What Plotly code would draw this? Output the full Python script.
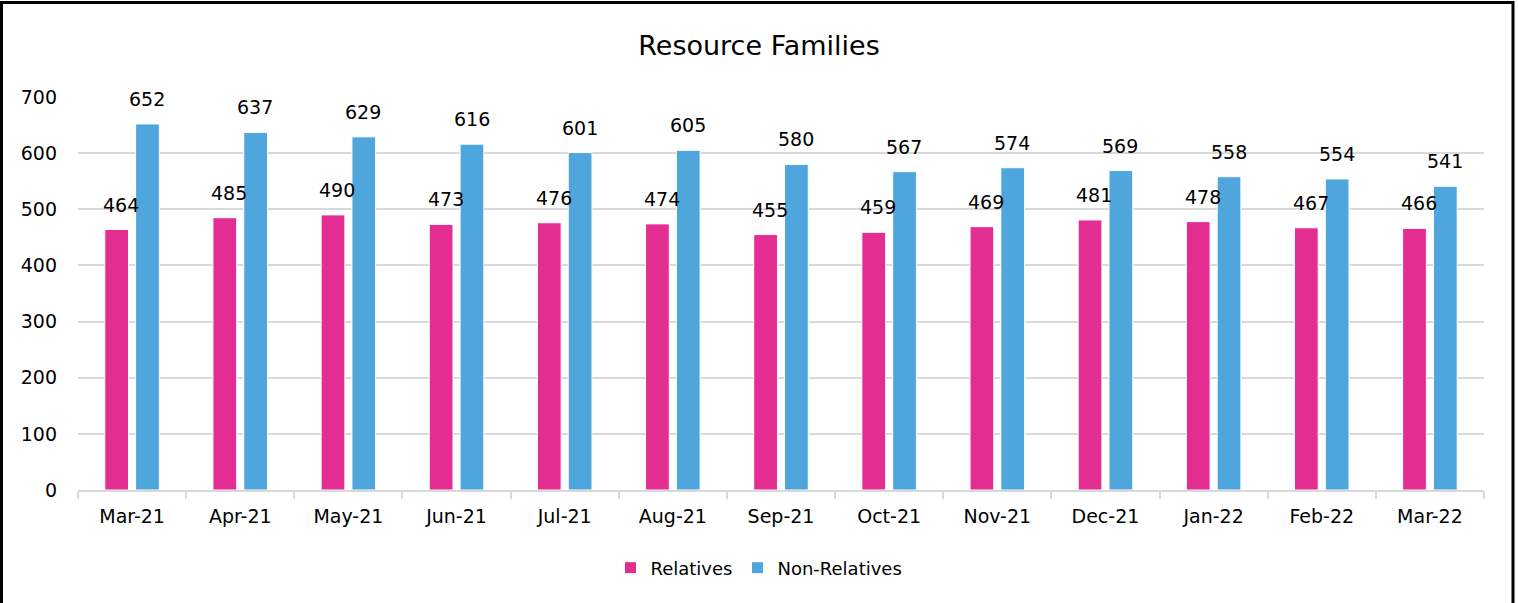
import plotly.graph_objects as go

months = ["Mar-21", "Apr-21", "May-21", "Jun-21", "Jul-21", "Aug-21", "Sep-21",
          "Oct-21", "Nov-21", "Dec-21", "Jan-22", "Feb-22", "Mar-22"]
relatives = [464, 485, 490, 473, 476, 474, 455, 459, 469, 481, 478, 467, 466]
non_relatives = [652, 637, 629, 616, 601, 605, 580, 567, 574, 569, 558, 554, 541]

PINK = "#E32D91"
BLUE = "#4EA6DC"
FONT = "DejaVu Sans"

W, H = 1518, 603
ML, MR, MT, MB = 78, 34, 97, 113

fig = go.Figure()
fig.add_trace(go.Bar(name="Relatives", x=months, y=relatives, marker_color=PINK,
                     marker_line=dict(color="white", width=1)))
fig.add_trace(go.Bar(name="Non-Relatives", x=months, y=non_relatives, marker_color=BLUE,
                     marker_line=dict(color="white", width=1)))

# data labels
annotations = []
for i, m in enumerate(months):
    annotations.append(dict(x=m, y=relatives[i], text=str(relatives[i]), xref="x", yref="y",
                            showarrow=False, yanchor="bottom", xshift=-11, yshift=12,
                            font=dict(family=FONT, size=19, color="#000")))
    annotations.append(dict(x=m, y=non_relatives[i], text=str(non_relatives[i]), xref="x", yref="y",
                            showarrow=False, yanchor="bottom", xshift=15, yshift=12,
                            font=dict(family=FONT, size=19, color="#000")))

pw = W - ML - MR
ph = H - MT - MB
x0 = (1.5 - ML) / pw
x1 = (W - 5 - ML) / pw
y1 = (H - MB - 2.5) / ph
y0 = (H - MB - H - 3) / ph

fig.update_layout(
    width=W, height=H,
    margin=dict(l=ML, r=MR, t=MT, b=MB),
    paper_bgcolor="white", plot_bgcolor="white",
    barmode="group", bargap=0.43, bargroupgap=0.23,
    title=dict(text="Resource Families", x=0.5, xref="container", xanchor="center",
               y=1 - 46 / H, yanchor="middle", yref="container",
               font=dict(family=FONT, size=27, color="#000")),
    font=dict(family=FONT, color="#000"),
    legend=dict(orientation="h", x=0.5, xref="container", xanchor="center",
                y=(H - 568) / H, yref="container", yanchor="middle",
                font=dict(family=FONT, size=18, color="#000"),
                itemwidth=30, traceorder="normal"),
    annotations=annotations,
    shapes=[dict(type="rect", xref="paper", yref="paper", x0=x0, x1=x1, y0=y0, y1=y1,
                 line=dict(color="#000", width=3), fillcolor="rgba(0,0,0,0)", layer="above")],
)
fig.update_xaxes(showline=True, linecolor="#d9d9d9", linewidth=2, ticks="outside",
                 tickson="boundaries", ticklen=7, tickcolor="#d9d9d9", tickwidth=2,
                 ticklabelstandoff=8,
                 tickfont=dict(family=FONT, size=19, color="#000"), showgrid=False)
fig.update_yaxes(range=[0, 700], dtick=100, showgrid=True, gridcolor="#d9d9d9", gridwidth=2,
                 zeroline=False, ticks="", ticklabelstandoff=20,
                 tickfont=dict(family=FONT, size=19, color="#000"))

fig.write_html("out.html", config={"displayModeBar": False},
               post_script="document.body.style.margin='0';document.body.style.overflow='hidden';")
